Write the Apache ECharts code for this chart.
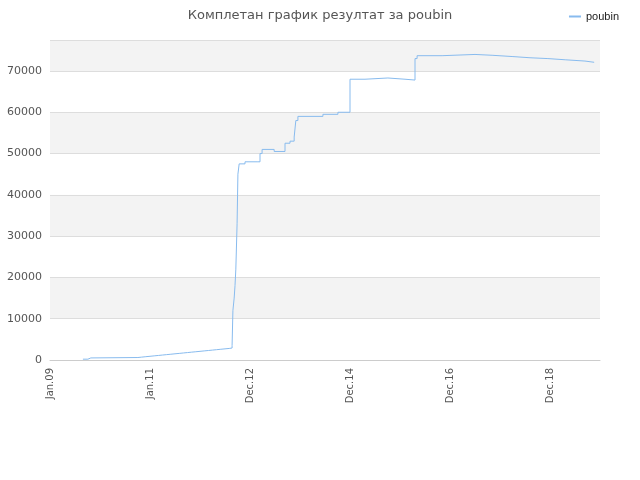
<!DOCTYPE html><html><head><meta charset="utf-8">
<script src="https://cdn.jsdelivr.net/npm/echarts@6/dist/echarts.min.js"></script></head>
<body style="margin:0"><div id="c" style="width:640px;height:480px"></div>
<script>
const months=[7.9,9.1,9.8,21.1,22,23,24,25,26,27,28,29,30,31,32,33,34,35,36,37,38,39,40,41,42,43,43.7,43.9,44.2,44.4,44.6,44.9,45.1,45.4,46.8,49.9,50.4,50.9,53.8,56.4,57.6,58.6,59,59.5,65.5,69.1,72,75.6,81.1,85.2,87.6,88.1,94.1,102,106.1,110.9,115.2,119.5,123.8,128.4,130.6];
const values=[200,500,600,700,800,900,1000,1100,1200,1300,1400,1500,1600,1700,1800,1900,2000,2100,2200,2300,2400,2500,2600,2700,2800,2900,3500,12000,15000,18000,22000,33000,45000,47500,48000,48000,50000,51000,50500,52500,53000,54000,58000,59000,59500,60000,68000,68300,68000,67800,73000,73700,74000,73800,73500,73200,73000,72700,72400,72100,72100];
const tickPos=[0,24,48,72,96,120];
const tickLabels=['Jan.09','Jan.11','Dec.12','Dec.14','Dec.16','Dec.18'];
const data=months.map((m,i)=>[m,values[i]]);
echarts.init(document.getElementById('c')).setOption({
 animation:false,
 title:{text:'Комплетан график резултат за poubin',left:'center',top:4,textStyle:{fontSize:13,fontWeight:'normal',color:'#555',fontFamily:'DejaVu Sans'}},
 legend:{right:16,top:6,itemWidth:12,itemHeight:2,textStyle:{fontSize:11,color:'#222'},icon:'rect'},
 grid:{left:50,right:40,top:40,bottom:120},
 xAxis:{type:'value',min:0,max:132,axisLine:{lineStyle:{color:'#ccc'}},splitLine:{show:false},
  axisTick:{show:false},
  axisLabel:{customValues:tickPos,rotate:90,fontSize:10,color:'#555',fontFamily:'DejaVu Sans',formatter:v=>tickLabels[tickPos.indexOf(v)]}},
 yAxis:{type:'value',min:0,max:77500,interval:10000,axisLine:{show:false},axisTick:{show:false},
  axisLabel:{fontSize:11,color:'#555',fontFamily:'DejaVu Sans',showMaxLabel:false,formatter:v=>String(v)},
  splitLine:{lineStyle:{color:'#ddd'}},
  splitArea:{show:true,areaStyle:{color:['#fff','#f3f3f3']}}},
 series:[{name:'poubin',type:'line',step:'end',data:data,showSymbol:false,lineStyle:{color:'#88bbee',width:1},itemStyle:{color:'#88bbee'}}]
});
</script></body></html>
